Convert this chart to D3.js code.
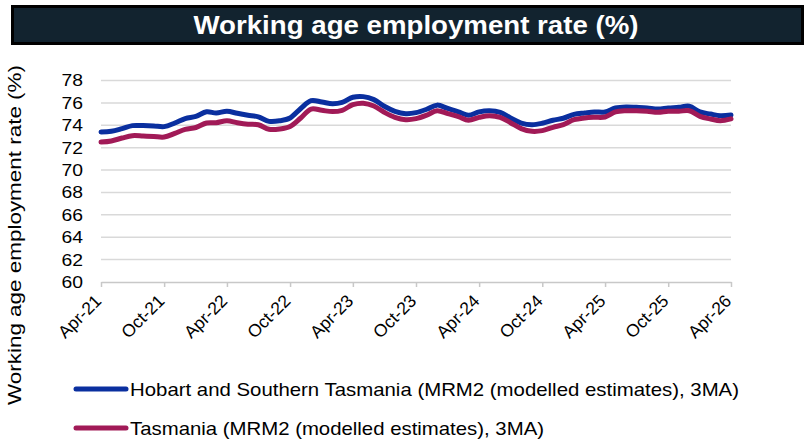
<!DOCTYPE html>
<html><head><meta charset="utf-8">
<script src="https://cdn.jsdelivr.net/npm/d3@7"></script>
<style>
html,body{margin:0;padding:0;background:#fff;}
svg{display:block;font-family:"Liberation Sans",Arial,sans-serif;}
</style></head>
<body>
<svg id="c" width="805" height="441"></svg>
<script>
const title = "Working age employment rate (%)";
const yTitle = "Working age employment rate (%)";
const startMonth = "2021-04";
const tickLabels = ["Apr-21","Oct-21","Apr-22","Oct-22","Apr-23","Oct-23","Apr-24","Oct-24","Apr-25","Oct-25","Apr-26"];
const yTicks = [60,62,64,66,68,70,72,74,76,78];
const seriesNames = ["Hobart and Southern Tasmania (MRM2 (modelled estimates), 3MA)","Tasmania (MRM2 (modelled estimates), 3MA)"];
const hobart = [73.4,73.46,73.7,73.97,73.97,73.94,73.88,74.2,74.6,74.8,75.2,75.1,75.25,75.07,74.9,74.75,74.35,74.4,74.65,75.5,76.2,
  76.08,75.93,76.05,76.5,76.56,76.29,75.7,75.25,75.04,75.13,75.43,75.8,75.5,75.2,74.9,75.2,75.3,75.16,74.65,74.2,
  74.05,74.18,74.45,74.63,74.98,75.1,75.19,75.19,75.55,75.64,75.6,75.55,75.46,75.55,75.6,75.7,75.19,75.0,74.86,74.92];
const tasmania = [72.5,72.6,72.86,73.07,73.04,73.0,72.95,73.28,73.64,73.8,74.2,74.23,74.4,74.23,74.1,74.05,73.64,73.67,73.9,74.65,75.45,
  75.34,75.22,75.34,75.84,75.97,75.72,75.16,74.71,74.5,74.59,74.9,75.3,75.04,74.77,74.45,74.71,74.86,74.71,74.23,73.7,
  73.46,73.52,73.82,74.05,74.5,74.65,74.71,74.74,75.19,75.3,75.3,75.25,75.16,75.25,75.25,75.3,74.8,74.56,74.41,74.57];
const colors = ["#0a2f9f","#a11a57"];

const svg = d3.select("#c");
const parse = d3.timeParse("%Y-%m");
const t0 = parse(startMonth);
const dates = hobart.map((_, i) => d3.timeMonth.offset(t0, i));

const x = d3.scaleTime().domain([dates[0], dates[dates.length-1]]).range([101, 731]);
const y = d3.scaleLinear().domain([60, 78]).range([282, 80.5]);

// title bar
svg.append("rect").attr("x",12.5).attr("y",6.5).attr("width",790).attr("height",37)
  .attr("fill","#12232f").attr("stroke","#000").attr("stroke-width",3);
svg.append("text").attr("x",416).attr("y",34).attr("text-anchor","middle")
  .attr("fill","#fff").attr("font-weight","bold").attr("font-size",25.5)
  .attr("textLength",445).attr("lengthAdjust","spacingAndGlyphs").text(title);

// gridlines
svg.append("g").selectAll("line").data(yTicks.filter(d => d > 60)).join("line")
  .attr("x1",101).attr("x2",731).attr("y1",d=>y(d)).attr("y2",d=>y(d))
  .attr("stroke","#d9d9d9").attr("stroke-width",1.5);

// y axis labels
const ya = svg.append("g").attr("transform","translate(101,0)")
  .call(d3.axisLeft(y).tickValues(yTicks).tickSize(0).tickPadding(18));
ya.select(".domain").remove();
ya.selectAll("text").attr("font-size",17).attr("fill","#000")
  .attr("font-family","Liberation Sans, Arial, sans-serif")
  .attr("textLength",21.5).attr("lengthAdjust","spacingAndGlyphs");

// x axis
const tickDates = tickLabels.map((_, i) => d3.timeMonth.offset(t0, i*6));
const xa = svg.append("g").attr("transform","translate(0,282)")
  .call(d3.axisBottom(x).tickValues(tickDates).tickSize(5).tickSizeOuter(0)
    .tickFormat((d,i) => tickLabels[i]));
xa.select(".domain").attr("stroke","#c8c8c8").attr("stroke-width",1.5);
xa.selectAll(".tick line").attr("stroke","#c8c8c8").attr("stroke-width",1.5);
xa.selectAll("text").attr("font-size",17.5).attr("fill","#000")
  .attr("font-family","Liberation Sans, Arial, sans-serif")
  .attr("text-anchor","end").attr("dy",0).attr("y",0)
  .attr("transform","translate(1,20) rotate(-45)");

// y title
svg.append("text").attr("transform","translate(21,235) rotate(-90)")
  .attr("text-anchor","middle").attr("font-size",19).attr("fill","#000")
  .attr("textLength",340).attr("lengthAdjust","spacingAndGlyphs").text(yTitle);

// lines
const line = d3.line().x((d,i)=>x(dates[i])).y(d=>y(d)).curve(d3.curveCatmullRom.alpha(0.5));
[hobart, tasmania].forEach((s, k) => {
  svg.append("path").attr("d", line(s)).attr("fill","none")
    .attr("stroke", colors[k]).attr("stroke-width",5).attr("stroke-linejoin","round").attr("stroke-linecap","round");
});

// legend
const legY = [389, 428];
const legW = [609, 414];
seriesNames.forEach((n, k) => {
  svg.append("line").attr("x1",76).attr("x2",126).attr("y1",legY[k]).attr("y2",legY[k])
    .attr("stroke",colors[k]).attr("stroke-width",5).attr("stroke-linecap","round");
  svg.append("text").attr("x",130).attr("y",legY[k]).attr("dy","0.35em")
    .attr("font-size",19).attr("fill","#000")
    .attr("textLength",legW[k]).attr("lengthAdjust","spacingAndGlyphs").text(n);
});
</script>
</body></html>
